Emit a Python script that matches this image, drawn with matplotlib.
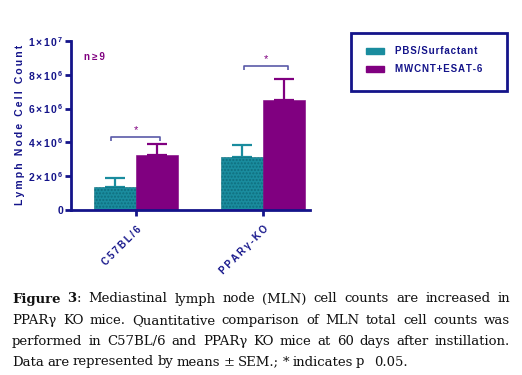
import matplotlib
matplotlib.use('Agg')
import matplotlib.pyplot as plt
from matplotlib.patches import Rectangle
from matplotlib.font_manager import FontProperties

plt.rcParams['mathtext.fontset'] = 'custom'
plt.rcParams['mathtext.bf'] = 'Liberation Sans:bold'
plt.rcParams['mathtext.rm'] = 'Liberation Sans:bold'

# data
groups = ['C57BL/6', 'PPARγ-KO']
series = ['PBS/Surfactant', 'MWCNT+ESAT-6']
means_pbs = [1.34e6, 3.12e6]
means_mwcnt = [3.25e6, 6.50e6]
sem_pbs = [0.57e6, 0.75e6]
sem_mwcnt = [0.67e6, 1.23e6]
y_ticks = [0, 2e6, 4e6, 6e6, 8e6, 1e7]
y_tick_labels = ['0', r'$\mathbf{2\,{\times}\,1\,0^{\,6}}$', r'$\mathbf{4\,{\times}\,1\,0^{\,6}}$',
                 r'$\mathbf{6\,{\times}\,1\,0^{\,6}}$', r'$\mathbf{8\,{\times}\,1\,0^{\,6}}$',
                 r'$\mathbf{1\,{\times}\,1\,0^{\,7}}$']
sig_heights = [4.3e6, 8.5e6]

teal = '#1a8c9e'
teal_dark = '#0f6e7e'
purple = '#800080'
navy = '#14148a'
bracket_col = '#5a5aa8'
sans = ['Liberation Sans', 'DejaVu Sans']

W, H = 522, 375


def fx(px):
    return px / W


def fy(py):
    return 1 - py / H


def spaced(s, sep='\u200a'):
    # loose letter spacing like the original graph
    return sep.join(s)


fig = plt.figure(figsize=(W / 100, H / 100), dpi=100)
ax = fig.add_axes([fx(71), fy(210), fx(310) - fx(71), fy(41) - fy(210)])

x = [0, 1]
bw = 0.333
xp = [v - bw / 2 for v in x]
xm = [v + bw / 2 for v in x]

ax.bar(xp, means_pbs, width=bw, color=teal, edgecolor=teal_dark, linewidth=0.4,
       hatch='.....', zorder=2)
ax.bar(xm, means_mwcnt, width=bw, color=purple, edgecolor=purple, linewidth=0.4, zorder=2)
ax.errorbar(xp, means_pbs, yerr=[[0, 0], sem_pbs], fmt='none', ecolor=teal,
            elinewidth=1.6, capsize=7.5, capthick=1.6, zorder=1)
ax.errorbar(xm, means_mwcnt, yerr=[[0, 0], sem_mwcnt], fmt='none', ecolor=purple,
            elinewidth=1.6, capsize=7.5, capthick=1.6, zorder=1)

# significance brackets
spans = [(-0.2, 0.19), (-0.15, 0.2)]
for (a, b), h, c in zip(spans, sig_heights, x):
    tick = 0.22e6
    ax.plot([c + a, c + a, c + b, c + b], [h - tick, h, h, h - tick],
            color=bracket_col, lw=1.2, solid_capstyle='butt')
    ax.text(c + (a + b) / 2, h + 0.15e6, '*', color=purple, ha='center',
            va='bottom', fontsize=8, family=sans)

ax.set_xlim(-0.513, 1.37)
ax.set_ylim(0, 1e7)
ax.set_yticks(y_ticks)
ax.set_yticklabels(y_tick_labels, fontsize=7.5, fontweight='bold', color=navy, family=sans)
ax.set_xticks(x)
ax.set_xticklabels([spaced(g, '\u2009') for g in groups], rotation=45, ha='right',
                   rotation_mode='anchor', fontsize=7, fontweight='bold',
                   color=navy, family=sans)
ax.tick_params(axis='both', colors=navy, width=2, length=4)
ax.tick_params(axis='x', pad=6)
ax.tick_params(axis='y', pad=1.5)
for side in ['top', 'right']:
    ax.spines[side].set_visible(False)
for side in ['left', 'bottom']:
    ax.spines[side].set_color(navy)
    ax.spines[side].set_linewidth(2)
ax.set_facecolor('none')

fig.text(fx(20), fy(125), spaced('Lymph Node Cell Count', '\u2009'), rotation=90,
         ha='center', va='center', fontsize=7.5, fontweight='bold', color=navy,
         family=sans)

fig.text(fx(84), fy(57), 'n\u2009≥\u20099', color=purple, fontsize=7, fontweight='bold',
         family=sans, va='center')

# legend box
fig.patches.append(Rectangle((fx(351), fy(91)), fx(507) - fx(351), fy(33) - fy(91),
                             transform=fig.transFigure, fill=False, edgecolor=navy,
                             linewidth=2))
for py, col, lab in [(51, teal, series[0]), (69, purple, series[1])]:
    fig.patches.append(Rectangle((fx(366), fy(py + 3)), fx(384) - fx(366), fy(py - 3) - fy(py + 3),
                                 transform=fig.transFigure, color=col))
    fig.text(fx(395), fy(py), spaced(lab), fontsize=7, fontweight='bold', color=navy,
             family=sans, va='center')

# justified caption
caption_lines = [
    [[('Figure', 'bold')], [('3', 'bold'), (':', 'normal')], 'Mediastinal', 'lymph', 'node',
     '(MLN)', 'cell', 'counts', 'are', 'increased', 'in'],
    'PPARγ KO mice. Quantitative comparison of MLN total cell counts was'.split(),
    'performed in C57BL/6 and PPARγ KO mice at 60 days after instillation.'.split(),
    'Data are represented by means ± SEM.; * indicates p\u2002 0.05.'.split(' '),
]
line_y = [299, 320.5, 341.5, 362]
x0, x1 = 12, 510
renderer = fig.canvas.get_renderer()
serif = 'DejaVu Serif'
cap_size = 9.5
last_gap = 3.4

for li, (words, py) in enumerate(zip(caption_lines, line_y)):
    words = [w if isinstance(w, list) else [(w, 'normal')] for w in words]
    sized = []
    for w in words:
        segs = []
        for s, weight in w:
            fp = FontProperties(family=serif, size=cap_size, weight=weight)
            wd = renderer.get_text_width_height_descent(s, fp, ismath=False)[0]
            segs.append((s, weight, wd))
        sized.append(segs)
    widths = [sum(seg[2] for seg in segs) for segs in sized]
    if li < len(caption_lines) - 1:
        gap = (x1 - x0 - sum(widths)) / (len(words) - 1)
    else:
        gap = last_gap
    cx = x0
    for segs, ww in zip(sized, widths):
        sx = cx
        for s, weight, wd in segs:
            fig.text(fx(sx), fy(py), s, fontsize=cap_size, fontweight=weight,
                     family=serif, va='center', color='#111111')
            sx += wd
        cx += ww + gap

fig.savefig('out.png', dpi=100)
